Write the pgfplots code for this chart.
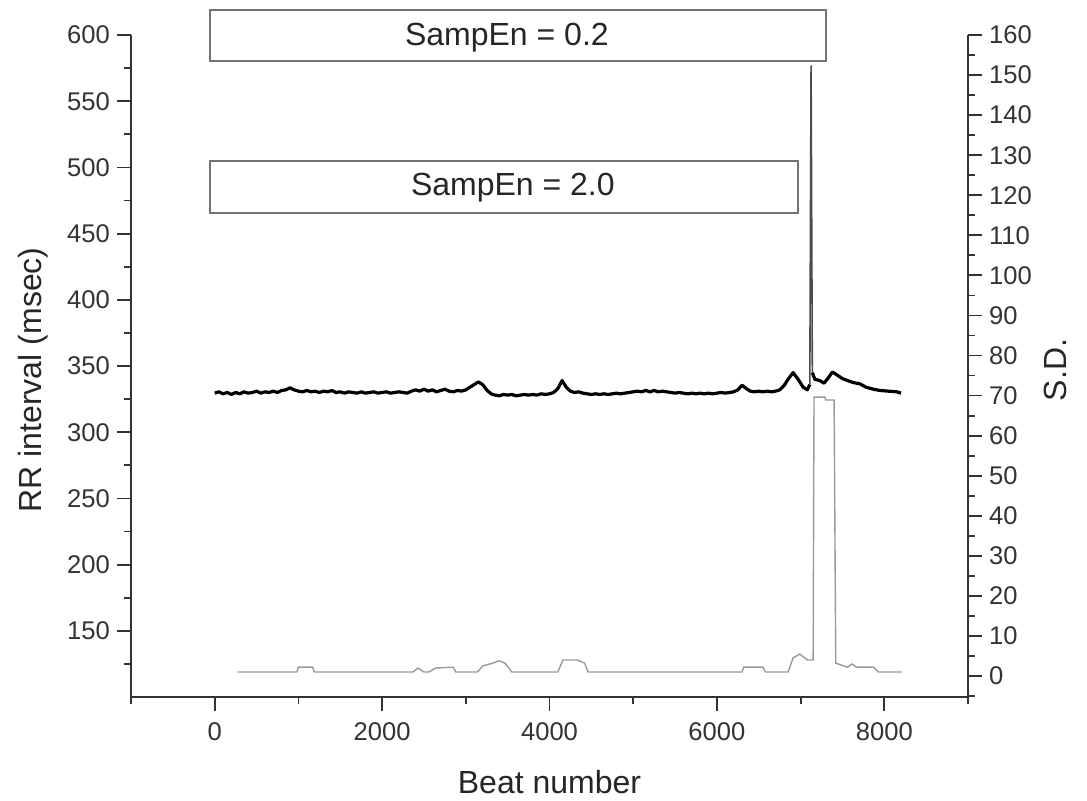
\documentclass[border=0pt]{standalone}
\usepackage{pgfplots}
\pgfplotsset{compat=1.18}
\usepackage{fontspec}
\setmainfont{Liberation Sans}

\definecolor{axcol}{gray}{0.2}
\definecolor{sdcol}{gray}{0.6}
\definecolor{boxcol}{gray}{0.45}

\pgfplotsset{
  common/.style={
    scale only axis,
    width=418.5pt, height=331pt,
    at={(65.5pt,51.5pt)}, anchor=south west,
    xmin=-1000, xmax=9000,
    tick align=outside,
    major tick length=7pt,
    minor tick length=3.5pt,
    every tick/.style={axcol, line width=0.9pt},
    every minor tick/.style={axcol, line width=0.9pt},
    axis line style={axcol, line width=1pt},
    tick label style={font=\fontsize{12.8}{15}\selectfont, text=black!80},
    /pgf/number format/assume math mode=true,
    /pgf/number format/1000 sep={},
  }
}

\begin{document}
\begin{tikzpicture}
\useasboundingbox (0,0) rectangle (543.5pt,400pt);

% Right axis: S.D.
\begin{axis}[common,
  axis x line=none,
  axis y line*=right,
  ymin=-5.24, ymax=160,
  ytick={0,10,...,160},
  minor ytick={-5,5,...,155},
  ylabel={S.D.},
  every axis y label/.style={at={(axis description cs:1.104,0.494)}, rotate=90, anchor=center, font=\fontsize{16}{19}\selectfont, text=black!85},
]
\addplot[sdcol, line width=0.7pt] coordinates {
(275,1) (980,1) (1000,2.2) (1170,2.2) (1190,1) (2370,1) (2430,2) (2500,1)
(2560,1) (2640,2) (2850,2.2) (2880,1) (3140,1) (3200,2.5) (3320,3.2) (3400,3.8)
(3470,3.2) (3550,1) (4100,1) (4160,4) (4330,4) (4420,3.2) (4460,1) (6300,1)
(6320,2.2) (6550,2.2) (6580,1) (6850,1) (6910,4.5) (6990,5.5) (7080,4) (7150,4)
(7160,69.6) (7290,69.6) (7300,68.9) (7400,68.9) (7420,3.2) (7560,2.2) (7610,3)
(7670,2.2) (7870,2.2) (7930,1) (8210,1)
};
\end{axis}

% Left axis: RR interval
\begin{axis}[common,
  clip=false,
  axis x line*=bottom,
  axis y line*=left,
  ymin=100, ymax=600,
  ytick={150,200,...,600},
  minor ytick={125,175,...,575},
  xtick={0,2000,...,8000},
  minor xtick={-1000,1000,...,9000},
  xticklabel style={yshift=-2.5pt},
  xlabel={Beat number},
  ylabel={RR interval (msec)},
  every axis x label/.style={at={(axis description cs:0.5,-0.128)}, anchor=center, font=\fontsize{16}{19}\selectfont, text=black!85},
  every axis y label/.style={at={(axis description cs:-0.117,0.479)}, rotate=90, anchor=center, font=\fontsize{16}{19}\selectfont, text=black!85},
]
\addplot[black, line width=1.6pt, line join=round] coordinates {
(0,329.5) (50,330.5) (100,329) (150,330) (200,328.5) (250,330) (300,329) (350,330.5)
(400,329.5) (450,330) (500,331) (550,329.5) (600,330.5) (650,330) (700,331) (750,330)
(800,331.5) (850,332) (900,333.5) (950,332) (1000,331) (1050,330.5) (1100,331.5)
(1150,330.5) (1200,331) (1250,330) (1300,331) (1350,330.5) (1400,331.5) (1450,330)
(1500,330.5) (1550,329.5) (1600,330.5) (1650,330) (1700,329.5) (1750,330.5)
(1800,329.5) (1850,330) (1900,330.5) (1950,329.5) (2000,330) (2050,330.5)
(2100,329.5) (2150,330) (2200,330.5) (2250,330) (2300,329.5) (2350,331) (2400,332)
(2450,331) (2500,332.5) (2550,331) (2600,332) (2650,330.5) (2700,331.5) (2750,332.5)
(2800,331) (2850,330.5) (2900,331.5) (2950,331) (3000,332) (3050,334) (3100,336)
(3150,338) (3200,336) (3250,332) (3300,329) (3350,328) (3400,327.5) (3450,328.5)
(3500,328) (3550,328.5) (3600,327.5) (3650,328) (3700,328.5) (3750,328) (3800,328.5)
(3850,328) (3900,329) (3950,328.5) (4000,329) (4050,330) (4100,333) (4150,339)
(4200,334) (4250,331) (4300,330) (4350,330.5) (4400,329.5) (4450,329) (4500,328.5)
(4550,329) (4600,328.5) (4650,329) (4700,328.5) (4750,329) (4800,329.5) (4850,329)
(4900,329.5) (4950,330) (5000,330.5) (5050,331) (5100,330.5) (5150,331.5) (5200,330.5)
(5250,331.5) (5300,330.5) (5350,331) (5400,330.5) (5450,330) (5500,329.5) (5550,330)
(5600,329.5) (5650,329) (5700,329.5) (5750,329) (5800,329.5) (5850,329) (5900,329.5)
(5950,329) (6000,329.5) (6050,330) (6100,329.5) (6150,330) (6200,330.5) (6250,332)
(6300,335.5) (6350,333) (6400,331) (6450,330.5) (6500,331) (6550,330.5) (6600,331)
(6650,330.5) (6700,331) (6750,332) (6800,335) (6850,340) (6910,345) (6970,340)
(7030,334) (7080,332) (7110,336)
};
\addplot[black!70, line width=0.8pt] coordinates {(7110,336) (7125,577) (7140,345)};
\addplot[black, line width=1.6pt, line join=round] coordinates {
(7140,345) (7170,340) (7230,339)
(7280,337) (7330,341) (7380,345.5) (7440,343) (7500,340.5) (7560,339) (7630,337.5)
(7710,336.5) (7780,334) (7870,332.5) (7950,331.5) (8050,331) (8150,330.5) (8200,329.5)
};
\draw[boxcol, line width=0.9pt, fill=white] (axis cs:-60,580.4) rectangle (axis cs:7304,618.9);
\node[font=\fontsize{16}{19}\selectfont, text=black!85] at (axis cs:3491,598.2) {SampEn = 0.2};
\draw[boxcol, line width=0.9pt, fill=white] (axis cs:-60,465.6) rectangle (axis cs:6970,504.9);
\node[font=\fontsize{16}{19}\selectfont, text=black!85] at (axis cs:3562,484.5) {SampEn = 2.0};
\end{axis}
\end{tikzpicture}
\end{document}
